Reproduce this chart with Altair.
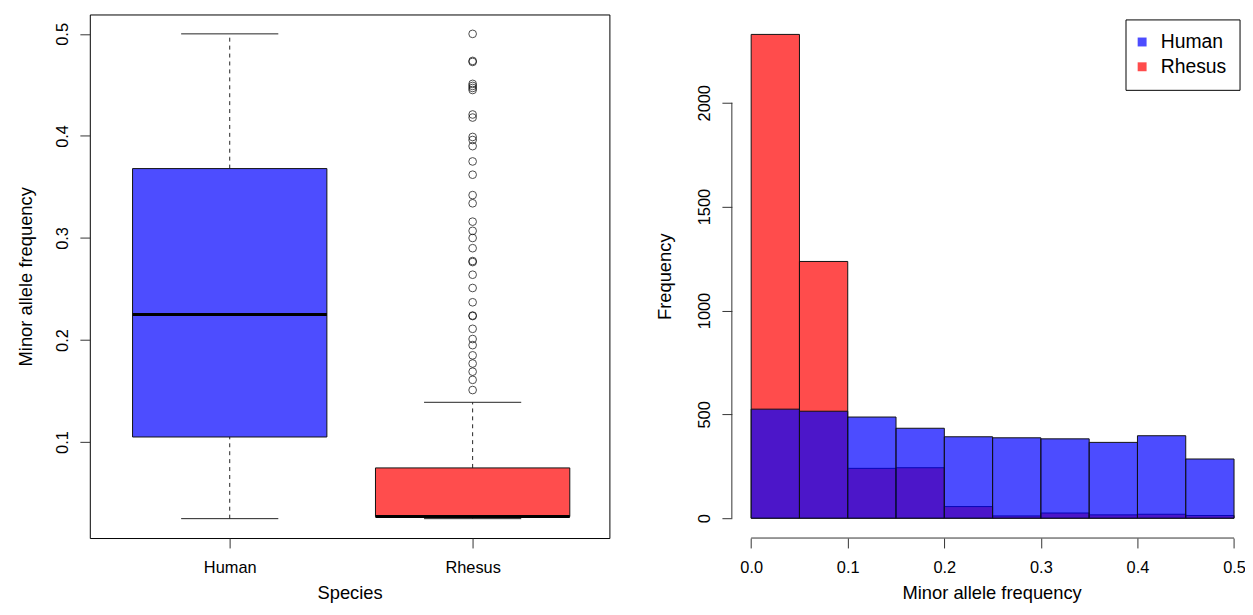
import altair as alt
import pandas as pd

FONT = "Liberation Sans"

# ---------------- Left panel: boxplot ----------------
species = ["Human", "Rhesus"]
species_pos = [1, 2]
whisker_low = [0.025, 0.025]
box_q1 = [0.105, 0.027]
box_median = [0.225, 0.027]
box_q3 = [0.368, 0.0747]
whisker_high = [0.5, 0.139]
box_fill = ["#4D4DFF", "#FF4D4D"]
rhesus_outliers = [
    0.5, 0.4735, 0.4725, 0.451, 0.449, 0.447, 0.445, 0.421, 0.418,
    0.399, 0.396, 0.390, 0.375, 0.362, 0.342, 0.334, 0.316, 0.307,
    0.300, 0.290, 0.2774, 0.2764, 0.264, 0.251, 0.237, 0.224, 0.2235,
    0.211, 0.201, 0.195, 0.185, 0.177, 0.169, 0.161, 0.151,
]
box_y_ticks = [0.1, 0.2, 0.3, 0.4, 0.5]

# ---------------- Right panel: histogram ----------------
bin_edges = [0.0, 0.05, 0.1, 0.15, 0.2, 0.25, 0.3, 0.35, 0.4, 0.45, 0.5]
human_counts = [525, 515, 487, 433, 392, 387, 382, 365, 397, 285]
rhesus_counts = [2329, 1236, 240, 243, 56, 11, 25, 16, 19, 13]
hist_species = ["Human", "Rhesus"]
hist_colors = ["#0000FF", "#FF0000"]
hist_y_ticks = [0, 500, 1000, 1500, 2000]
hist_x_ticks = [0.0, 0.1, 0.2, 0.3, 0.4, 0.5]

# ---------------- build tables ----------------
box_df = pd.DataFrame({
    "species": species, "pos": species_pos, "low": whisker_low, "q1": box_q1,
    "median": box_median, "q3": box_q3, "high": whisker_high,
})
out_df = pd.DataFrame({"pos": [species_pos[1]] * len(rhesus_outliers),
                       "value": rhesus_outliers})

rows = []
for name, counts in (("Rhesus", rhesus_counts), ("Human", human_counts)):
    for i, c in enumerate(counts):
        rows.append({"species": name, "start": bin_edges[i],
                     "end": bin_edges[i + 1], "count": c})
hist_df = pd.DataFrame(rows)

# ---------------- scales / axes (left) ----------------
bx_scale = alt.Scale(domain=[0.424, 2.563], nice=False, zero=False)
by_scale = alt.Scale(domain=[0.006, 0.519], nice=False, zero=False)

label_expr = " : ".join(
    [f"datum.value == {p} ? '{s}'" for p, s in zip(species_pos, species)]
) + " : ''"

bx_axis = alt.Axis(values=species_pos, labelExpr=label_expr, title="Species",
                   domain=False, grid=False, tickSize=10, labelPadding=12,
                   minExtent=38, maxExtent=38, titlePadding=8,
                   labelFlush=False, labelOverlap=False)
by_axis = alt.Axis(values=box_y_ticks, format=".1f", title="Minor allele frequency",
                   labelAngle=270, labelAlign="center", labelBaseline="bottom",
                   domain=False, grid=False, tickSize=10, labelPadding=9,
                   minExtent=37, maxExtent=37, titlePadding=18)


def BX(field):
    return alt.X(field, type="quantitative", scale=bx_scale, axis=bx_axis)


def BY(field):
    return alt.Y(field, type="quantitative", scale=by_scale, axis=by_axis)


base = alt.Chart(box_df).transform_calculate(
    x1="datum.pos - 0.4", x2="datum.pos + 0.4",
    c1="datum.pos - 0.2", c2="datum.pos + 0.2",
)

whisk_up = base.mark_rule(color="#222", strokeWidth=1, strokeDash=[4, 4]).encode(
    x=BX("pos"), y=BY("q3"), y2="high")
whisk_lo = base.mark_rule(color="#222", strokeWidth=1, strokeDash=[4, 4]).encode(
    x=BX("pos"), y=BY("low"), y2="q1")
cap_up = base.mark_rule(color="#222", strokeWidth=1).encode(
    x=BX("c1"), x2="c2", y=BY("high"))
cap_lo = base.mark_rule(color="#222", strokeWidth=1).encode(
    x=BX("c1"), x2="c2", y=BY("low"))
boxes = base.mark_rect(stroke="#111", strokeWidth=1).encode(
    x=BX("x1"), x2="x2", y=BY("q1"), y2="q3",
    color=alt.Color("species:N", scale=alt.Scale(domain=species, range=box_fill),
                    legend=None))
medians = base.mark_rule(color="black", strokeWidth=3).encode(
    x=BX("x1"), x2="x2", y=BY("median"))
outs = alt.Chart(out_df).mark_point(shape="circle", filled=False, color="black",
                                    size=60, strokeWidth=1).encode(
    x=BX("pos"), y=BY("value"))

left = alt.layer(whisk_up, whisk_lo, cap_up, cap_lo, boxes, medians, outs).properties(
    width=524, height=528,
    view=alt.ViewBackground(stroke="black", strokeWidth=1),
)

# ---------------- scales / axes (right) ----------------
hx_dom = [-0.02, 0.5016]
hy_dom = [-95.5, 2425]
hx_scale = alt.Scale(domain=hx_dom, nice=False, zero=False)
hy_scale = alt.Scale(domain=hy_dom, nice=False, zero=False)
hx_axis = alt.Axis(values=hist_x_ticks, format=".1f", title="Minor allele frequency",
                   domain=False, grid=False, tickSize=10, labelPadding=12,
                   minExtent=38, maxExtent=38, titlePadding=8, titleX=262,
                   labelFlush=False, labelOverlap=False, labelBound=False)
hy_axis = alt.Axis(values=hist_y_ticks, format="d", title="Frequency",
                   labelAngle=270, labelAlign="center", labelBaseline="bottom",
                   domain=False, grid=False, tickSize=10, labelPadding=10,
                   minExtent=37, maxExtent=37, titlePadding=21)

bars = alt.Chart(hist_df).mark_rect(stroke="#111", strokeWidth=1, fillOpacity=0.7).encode(
    x=alt.X("start:Q", scale=hx_scale, axis=hx_axis),
    x2="end",
    y=alt.Y("count:Q", scale=hy_scale, axis=hy_axis),
    y2=alt.datum(0),
    color=alt.Color("species:N",
                    scale=alt.Scale(domain=hist_species, range=hist_colors),
                    legend=alt.Legend(orient="none", legendX=397, legendY=5,
                                      title=None, strokeColor="black",
                                      fillColor="white", padding=13,
                                      symbolType="square", symbolSize=81,
                                      symbolOffset=-6,
                                      symbolOpacity=0.7, symbolStrokeWidth=0,
                                      labelFont=FONT, labelFontSize=19.5,
                                      labelColor="black", labelOffset=9,
                                      rowPadding=4)),
)

yline_df = pd.DataFrame({"lo": [min(hist_y_ticks)], "hi": [max(hist_y_ticks)]})
xline_df = pd.DataFrame({"lo": [min(hist_x_ticks)], "hi": [max(hist_x_ticks)]})

y_line = alt.Chart(yline_df).mark_rule(color="#333", strokeWidth=1).encode(
    x=alt.X(datum=hx_dom[0], type="quantitative", scale=hx_scale, axis=hx_axis),
    y=alt.Y("lo:Q", scale=hy_scale, axis=hy_axis), y2="hi")
x_line = alt.Chart(xline_df).mark_rule(color="#333", strokeWidth=1).encode(
    y=alt.Y(datum=hy_dom[0], type="quantitative", scale=hy_scale, axis=hy_axis),
    x=alt.X("lo:Q", scale=hx_scale, axis=hx_axis), x2="hi")

right = alt.layer(bars, y_line, x_line).properties(width=508, height=528)

chart = alt.hconcat(left, right, spacing=45.5).resolve_scale(
    color="independent"
).properties(
    padding={"left": 7.5, "top": 3, "right": -1, "bottom": 0}
).configure_view(stroke=None).configure_axis(
    labelFont=FONT, titleFont=FONT, labelFontSize=16.5, titleFontSize=18.5,
    labelColor="black", titleColor="black", titleFontWeight="normal",
    tickColor="#333", tickWidth=1,
)

chart.save("out.html", embed_options={"renderer": "svg", "actions": False})
